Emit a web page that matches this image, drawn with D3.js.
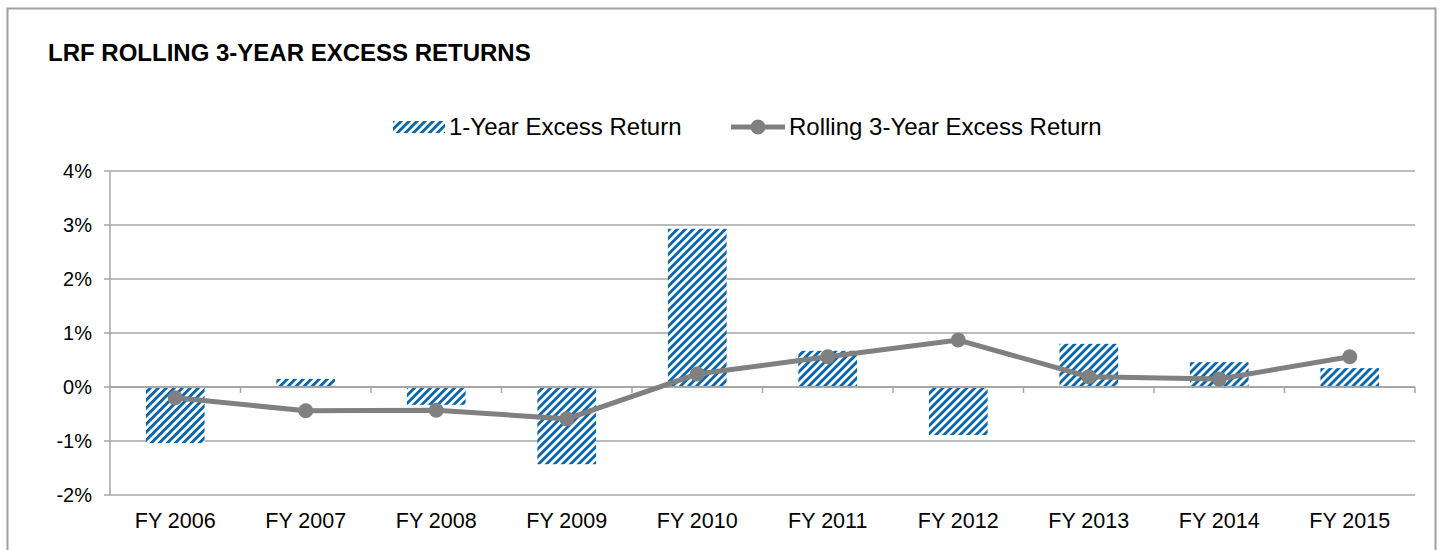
<!DOCTYPE html>
<html>
<head>
<meta charset="utf-8">
<script src="https://cdn.jsdelivr.net/npm/d3@7"></script>
<style>
  body { margin: 0; background: #fff; }
  svg { display: block; font-family: "Liberation Sans", Arial, sans-serif; }
</style>
</head>
<body>
<div id="chart"></div>
<script>
// chart data
var years = ["FY 2006", "FY 2007", "FY 2008", "FY 2009", "FY 2010", "FY 2011", "FY 2012", "FY 2013", "FY 2014", "FY 2015"];
var oneYear = [-1.04, 0.15, -0.33, -1.43, 2.93, 0.67, -0.89, 0.80, 0.46, 0.35];
var rolling3 = [-0.20, -0.44, -0.43, -0.59, 0.24, 0.56, 0.87, 0.19, 0.15, 0.56];
var yTicks = [-2, -1, 0, 1, 2, 3, 4];
var seriesNames = ["1-Year Excess Return", "Rolling 3-Year Excess Return"];

var width = 1444, height = 550;
var margin = { top: 171, right: 29, bottom: 55, left: 110 };
var blue = "#0b67a9", grey = "#808080", gridCol = "#a6a6a6";

var svg = d3.select("#chart").append("svg")
    .attr("width", width)
    .attr("height", height);

// hatch pattern for the bars
var defs = svg.append("defs");
var pat = defs.append("pattern")
    .attr("id", "hatch")
    .attr("patternUnits", "userSpaceOnUse")
    .attr("width", 5.66)
    .attr("height", 5.66)
    .attr("patternTransform", "rotate(45)");
pat.append("rect").attr("width", 5.66).attr("height", 5.66).attr("fill", "#fff");
pat.append("rect").attr("width", 2.9).attr("height", 5.66).attr("fill", blue);

// outer frame
svg.append("rect")
    .attr("x", 7.5).attr("y", 8.5)
    .attr("width", 1428).attr("height", 560)
    .attr("fill", "none")
    .attr("stroke", "#a0a0a0")
    .attr("stroke-width", 2);

svg.append("text")
    .attr("x", 48).attr("y", 61)
    .style("font-size", "24px")
    .style("font-weight", "bold")
    .text("LRF ROLLING 3-YEAR EXCESS RETURNS");

var x = d3.scaleBand()
    .domain(years)
    .range([margin.left, width - margin.right])
    .paddingInner(0.55)
    .paddingOuter(0.275);

var y = d3.scaleLinear()
    .domain([-2, 4])
    .range([height - margin.bottom, margin.top]);

// gridlines
svg.append("g").selectAll("line")
    .data(yTicks)
    .enter().append("line")
      .attr("x1", margin.left - 6)
      .attr("x2", width - margin.right)
      .attr("y1", function(d) { return y(d); })
      .attr("y2", function(d) { return y(d); })
      .attr("stroke", gridCol)
      .attr("stroke-width", 1.5);

// y axis line
svg.append("line")
    .attr("x1", margin.left).attr("x2", margin.left)
    .attr("y1", y(4)).attr("y2", y(-2))
    .attr("stroke", gridCol)
    .attr("stroke-width", 1.5);

svg.append("g").selectAll("text")
    .data(yTicks)
    .enter().append("text")
      .attr("x", 92)
      .attr("y", function(d) { return y(d); })
      .attr("dy", "0.35em")
      .attr("text-anchor", "end")
      .style("font-size", "20px")
      .text(function(d) { return d + "%"; });

// bars
svg.append("g").selectAll("rect")
    .data(oneYear)
    .enter().append("rect")
      .attr("x", function(d, i) { return x(years[i]); })
      .attr("width", x.bandwidth())
      .attr("y", function(d) { return y(Math.max(0, d)); })
      .attr("height", function(d) { return Math.abs(y(d) - y(0)); })
      .attr("fill", "url(#hatch)");

// zero axis with category ticks
svg.append("line")
    .attr("x1", margin.left).attr("x2", width - margin.right)
    .attr("y1", y(0)).attr("y2", y(0))
    .attr("stroke", gridCol)
    .attr("stroke-width", 2);

var step = x.step();
svg.append("g").selectAll("line")
    .data(years)
    .enter().append("line")
      .attr("x1", function(d) { return x(d) + x.bandwidth() + step * 0.275; })
      .attr("x2", function(d) { return x(d) + x.bandwidth() + step * 0.275; })
      .attr("y1", y(0))
      .attr("y2", y(0) + 6)
      .attr("stroke", gridCol)
      .attr("stroke-width", 1.5);

svg.append("g").selectAll("text")
    .data(years)
    .enter().append("text")
      .attr("x", function(d) { return x(d) + x.bandwidth() / 2; })
      .attr("y", 528)
      .attr("text-anchor", "middle")
      .style("font-size", "21.5px")
      .text(function(d) { return d; });

// rolling line
var line = d3.line()
    .x(function(d, i) { return x(years[i]) + x.bandwidth() / 2; })
    .y(function(d) { return y(d); });

svg.append("path")
    .datum(rolling3)
    .attr("d", line)
    .attr("fill", "none")
    .attr("stroke", grey)
    .attr("stroke-width", 5);

svg.append("g").selectAll("circle")
    .data(rolling3)
    .enter().append("circle")
      .attr("cx", function(d, i) { return x(years[i]) + x.bandwidth() / 2; })
      .attr("cy", function(d) { return y(d); })
      .attr("r", 7.5)
      .attr("fill", grey);

// legend
var leg = svg.append("g");
leg.append("rect")
    .attr("x", 393).attr("y", 121)
    .attr("width", 52).attr("height", 12)
    .attr("fill", "url(#hatch)");
leg.append("text")
    .attr("x", 449).attr("y", 135)
    .style("font-size", "24px")
    .text(seriesNames[0]);
leg.append("line")
    .attr("x1", 731).attr("x2", 785)
    .attr("y1", 127).attr("y2", 127)
    .attr("stroke", grey)
    .attr("stroke-width", 5);
leg.append("circle")
    .attr("cx", 758).attr("cy", 127)
    .attr("r", 7.5)
    .attr("fill", grey);
leg.append("text")
    .attr("x", 789).attr("y", 135)
    .style("font-size", "24px")
    .text(seriesNames[1]);
</script>
</body>
</html>
